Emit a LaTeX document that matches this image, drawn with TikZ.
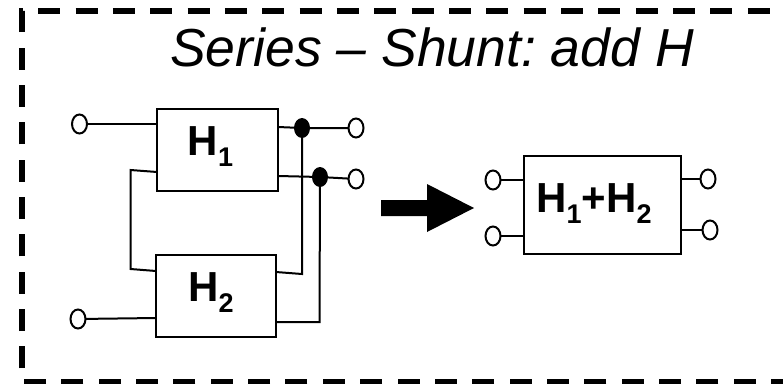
\documentclass[tikz,border=0pt]{standalone}
\usepackage{fontspec}
\setmainfont{Liberation Sans}
\usetikzlibrary{shapes.geometric}
\frenchspacing
\newcommand{\hsub}[1]{\raisebox{-11pt}{\fontsize{27}{27}\selectfont #1}}
\begin{document}
\begin{tikzpicture}[
       x=1pt,
       y=-1pt,
       line width=2pt,
       term/.style={
         ellipse,
         draw,
         fill=white,
         inner sep=0pt,
         outer sep=0pt,
         minimum width=15pt,
         minimum height=19pt
       },
       junction/.style={
         ellipse,
         fill=black,
         inner sep=0pt,
         outer sep=0pt,
         minimum width=16pt,
         minimum height=20pt
       },
       block/.style={
         rectangle,
         draw,
         inner sep=0pt,
         outer sep=0pt
       },
       blocklabel/.style={
         anchor=base,
         inner sep=0pt,
         font=\fontsize{42}{42}\selectfont\bfseries
       }
     ]
       \useasboundingbox (0,0) rectangle (783,383);

       % frame, open on the right
       \draw[line width=5.5pt,dash pattern=on 22pt off 15.35pt,dash phase=10pt]
         (783,381.7) -- (22,381.7) -- (22,11) -- (775,11);

       \node (title) at (432,66) [anchor=base,inner sep=0pt,font=\fontsize{53.5}{54}\selectfont\itshape]{Series -- Shunt: add H};

       \node (h1) at (217.5,150) [block,minimum width=121pt,minimum height=82pt]{};
       \node (h2) at (216,296) [block,minimum width=120pt,minimum height=82pt]{};
       \node (sum) at (602.5,205) [block,minimum width=157pt,minimum height=98pt]{};
       \node (h1text) at (210.5,155) [blocklabel]{H\hsub{1}};
       \node (h2text) at (211,301) [blocklabel]{H\hsub{2}};
       \node (sumtext) at (594,212) [blocklabel]{H\hsub{1}+H\hsub{2}};

       \node (in1) at (79.5,124) [term]{};
       \node (in2) at (78,319) [term]{};
       \node (out1) at (356,128) [term]{};
       \node (out2) at (356,179) [term]{};
       \node (j1) at (302,128) [junction]{};
       \node (j2) at (320,177) [junction]{};

       \node (sin1) at (493,180) [term]{};
       \node (sin2) at (493,236) [term]{};
       \node (sout1) at (708,179) [term]{};
       \node (sout2) at (710,230) [term]{};

       \coordinate (c1) at (130.5,170);
       \coordinate (c2) at (130.5,269);
       \coordinate (c3) at (302,274);
       \coordinate (c4) at (319.5,322);

       \draw (in1) -- (157,124);
       \draw (in2) -- (156,318);
       \draw (157,172) -- (c1) -- (c2) -- (156,271);
       \draw (278,127) -- (j1) -- (out1);
       \draw (278,176) -- (j2) -- (out2);
       \draw (276,272) -- (c3) -- (j1);
       \draw (276,322) -- (c4) -- (j2);

       \draw (sin1) -- (524,180);
       \draw (sin2) -- (524,236);
       \draw (681,179) -- (sout1);
       \draw (681,230) -- (sout2);

       \fill (381,200) -- (427,200) -- (427,184) -- (474,208) -- (427,232) -- (427,216) -- (381,216) -- cycle;

\end{tikzpicture}
\end{document}
